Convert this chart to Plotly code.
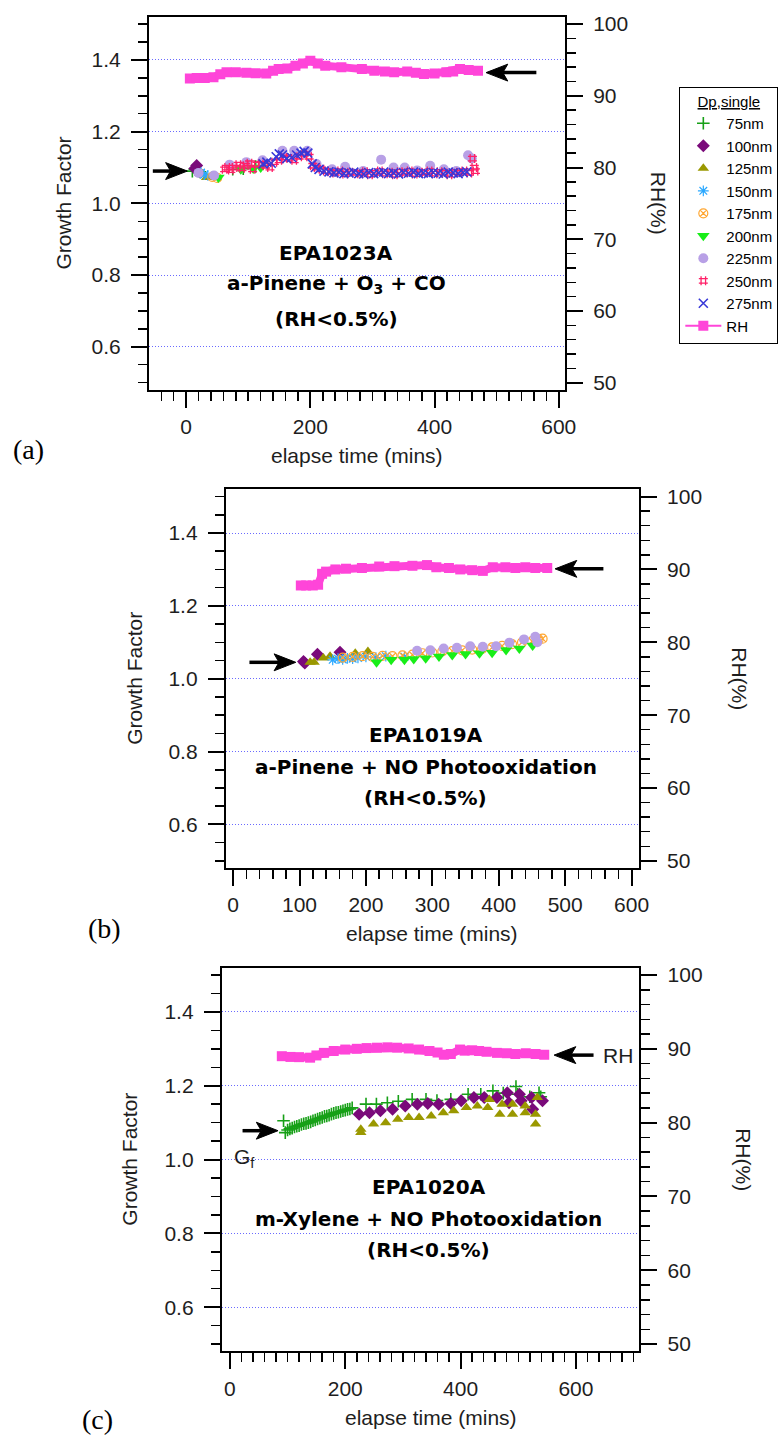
import plotly.graph_objects as go

W, H = 783, 1439

# ======================= DATA =======================
SIZES = ["75nm", "100nm", "125nm", "150nm", "175nm", "200nm", "225nm", "250nm", "275nm"]

# ---- Panel (a): EPA1023A  a-Pinene + O3 + CO ----
a_rh_t = [6, 17, 30, 44, 55, 65, 80, 97, 112, 129, 140, 149, 163, 176, 188, 200, 212, 224, 250, 283,
          303, 320, 335, 356, 370, 383, 400, 419, 430, 441, 455, 470]
a_rh = [92.4, 92.5, 92.5, 92.6, 93.0, 93.3, 93.3, 93.2, 93.15, 93.1, 93.5, 93.75, 93.8, 94.2, 94.5, 94.9,
        94.5, 94.2, 94.0, 93.75, 93.5, 93.4, 93.3, 93.4, 93.2, 93.05, 93.1, 93.3, 93.4, 93.75, 93.6, 93.5]

a_t_75 = [10, 14, 22, 75, 92, 112]
a_gf_75 = [1.09, 1.095, 1.088, 1.095, 1.097, 1.103]
a_t_100 = [14, 17]
a_gf_100 = [1.097, 1.106]
a_t_125 = [26, 33, 40]
a_gf_125 = [1.083, 1.072, 1.073]
a_t_150 = [24, 29, 35]
a_gf_150 = [1.086, 1.08, 1.078]
a_t_175 = [42, 50]
a_gf_175 = [1.074, 1.071]
a_t_200 = [52, 88, 108, 120]
a_gf_200 = [1.072, 1.095, 1.097, 1.10]
a_t_225 = [20, 45, 70, 97, 123, 155, 174, 195, 210, 235, 256, 285, 314, 334, 352, 372, 393, 415, 435, 454, 460]
a_gf_225 = [1.085, 1.078, 1.108, 1.115, 1.12, 1.147, 1.147, 1.147, 1.11, 1.095, 1.102, 1.09, 1.122, 1.10,
            1.10, 1.092, 1.105, 1.095, 1.09, 1.134, 1.125]
a_t_250 = [62, 66, 72, 78, 84, 90, 96, 102, 107, 114, 120, 128, 135, 142, 150, 158, 166, 174, 182, 190,
           198, 204, 210, 218, 225, 232, 240, 248, 256, 264, 272, 280, 288, 296, 304, 312, 320, 328, 336, 344,
           352, 360, 368, 376, 384, 392, 400, 408, 416, 424, 432, 440, 448, 456, 461, 464, 466]
a_gf_250 = [1.095, 1.10, 1.093, 1.10, 1.108, 1.098, 1.105, 1.112, 1.095, 1.108, 1.11, 1.105, 1.10, 1.115,
            1.12, 1.128, 1.125, 1.12, 1.13, 1.138, 1.13, 1.105, 1.10, 1.095, 1.09, 1.088, 1.085, 1.09, 1.082,
            1.087, 1.085, 1.083, 1.088, 1.08, 1.085, 1.09, 1.083, 1.087, 1.08, 1.088, 1.085, 1.09, 1.082,
            1.087, 1.085, 1.09, 1.083, 1.088, 1.085, 1.08, 1.087, 1.085, 1.09, 1.085, 1.125, 1.10, 1.09]
a_t_275 = [124, 130, 137, 145, 150, 155, 162, 170, 178, 185, 190, 196, 203, 208, 214, 222, 230, 238, 246,
           254, 262, 270, 278, 286, 294, 302, 310, 318, 326, 334, 342, 350, 358, 366, 374, 382, 390, 398,
           406, 414, 422, 430, 438, 446, 452]
a_gf_275 = [1.11, 1.115, 1.112, 1.13, 1.138, 1.135, 1.125, 1.128, 1.135, 1.14, 1.145, 1.14, 1.11, 1.10,
            1.095, 1.09, 1.088, 1.085, 1.087, 1.083, 1.085, 1.087, 1.083, 1.082, 1.086, 1.083, 1.085, 1.087,
            1.083, 1.085, 1.082, 1.086, 1.084, 1.087, 1.083, 1.085, 1.083, 1.086, 1.084, 1.082, 1.087, 1.085,
            1.083, 1.086, 1.088]

# ---- Panel (b): EPA1019A  a-Pinene + NO photooxidation ----
b_rh_t = [102, 110, 120, 128, 134, 140, 154, 170, 194, 220, 243, 270, 292, 306, 325, 342, 360, 376, 391,
          410, 425, 440, 455, 473]
b_rh = [87.8, 87.8, 87.8, 87.9, 89.4, 89.7, 90.0, 90.1, 90.2, 90.4, 90.45, 90.5, 90.6, 90.3, 90.2, 90.0,
        89.9, 89.8, 90.3, 90.3, 90.2, 90.3, 90.2, 90.2]
b_t_100 = [106, 108, 127, 161]
b_gf_100 = [1.047, 1.043, 1.067, 1.073]
b_t_125 = [116, 122, 136, 146, 184, 203]
b_gf_125 = [1.045, 1.045, 1.057, 1.062, 1.07, 1.075]
b_t_150 = [150, 158, 165, 172, 180, 188, 200, 215, 230, 258]
b_gf_150 = [1.052, 1.055, 1.053, 1.056, 1.055, 1.057, 1.06, 1.058, 1.062, 1.06]
b_t_175 = [165, 180, 195, 210, 225, 240, 255, 270, 285, 300, 315, 330, 345, 360, 375, 390, 405, 420, 435,
           450, 460, 466]
b_gf_175 = [1.058, 1.06, 1.062, 1.06, 1.063, 1.062, 1.064, 1.066, 1.07, 1.072, 1.075, 1.076, 1.078, 1.08,
            1.082, 1.086, 1.09, 1.095, 1.10, 1.103, 1.108, 1.11]
b_t_200 = [216, 238, 258, 272, 290, 310, 330, 350, 371, 390, 411, 431, 451]
b_gf_200 = [1.045, 1.052, 1.052, 1.054, 1.056, 1.061, 1.065, 1.068, 1.07, 1.071, 1.079, 1.083, 1.091]
b_t_225 = [277, 297, 317, 337, 357, 376, 396, 416, 438, 455, 458]
b_gf_225 = [1.077, 1.078, 1.083, 1.085, 1.089, 1.088, 1.089, 1.099, 1.108, 1.115, 1.10]

# ---- Panel (c): EPA1020A  m-Xylene + NO photooxidation ----
c_rh_t = [90, 105, 120, 139, 150, 163, 180, 200, 220, 237, 255, 273, 290, 310, 328, 346, 360, 371, 383,
          399, 407, 420, 432, 445, 463, 480, 495, 513, 530, 545]
c_rh = [89.0, 88.9, 88.87, 88.8, 89.1, 89.45, 89.7, 89.9, 90.0, 90.1, 90.15, 90.2, 90.15, 90.05, 89.9,
        89.7, 89.5, 89.2, 89.3, 89.9, 89.75, 89.8, 89.7, 89.6, 89.45, 89.4, 89.3, 89.4, 89.3, 89.2]
c_t_75 = [93, 96, 100, 104, 108, 112, 116, 120, 124, 128, 132, 136, 140, 144, 148, 152, 156, 160, 164, 168,
          172, 176, 180, 184, 188, 192, 196, 200, 204, 208, 212, 236, 254, 273, 292, 316, 340, 359, 383, 413,
          435, 456, 474, 496, 499, 520, 536, 539]
c_gf_75 = [1.105, 1.073, 1.080, 1.083, 1.085, 1.088, 1.09, 1.092, 1.095, 1.097, 1.098, 1.10, 1.102, 1.105,
           1.107, 1.11, 1.112, 1.114, 1.117, 1.118, 1.12, 1.123, 1.125, 1.127, 1.128, 1.13, 1.132, 1.134,
           1.136, 1.137, 1.14, 1.15, 1.15, 1.154, 1.158, 1.163, 1.163, 1.16, 1.163, 1.177, 1.177, 1.186,
           1.18, 1.198, 1.177, 1.17, 1.181, 1.17]
c_t_100 = [224, 242, 261, 282, 304, 325, 343, 362, 383, 401, 423, 441, 463, 481, 484, 502, 505, 523, 525, 542]
c_gf_100 = [1.123, 1.127, 1.132, 1.136, 1.145, 1.15, 1.152, 1.15, 1.152, 1.159, 1.168, 1.168, 1.168, 1.181,
            1.154, 1.177, 1.159, 1.168, 1.136, 1.159]
c_t_125 = [227, 227, 249, 270, 291, 310, 328, 349, 370, 388, 410, 429, 447, 450, 468, 472, 490, 490, 512,
           512, 530, 530, 533]
c_gf_125 = [1.082, 1.073, 1.096, 1.10, 1.109, 1.114, 1.114, 1.118, 1.127, 1.132, 1.141, 1.145, 1.141, 1.163,
            1.123, 1.15, 1.123, 1.15, 1.127, 1.145, 1.096, 1.123, 1.168]

GF_TICKS = [0.6, 0.8, 1.0, 1.2, 1.4]
GF_TICKTEXT = ["0.6", "0.8", "1.0", "1.2", "1.4"]
RH_TICKS = [50, 60, 70, 80, 90, 100]

# ======================= STYLES =======================
STYLE = {
    "75nm": dict(symbol="cross-thin-open", size=9, color="#17a017", lw=1.6),
    "100nm": dict(symbol="diamond", size=10, color="#7a0a7a", lw=0),
    "125nm": dict(symbol="triangle-up", size=10, color="#9a9800", lw=0),
    "150nm": dict(symbol="asterisk-open", size=9, color="#2aa8ff", lw=1.2),
    "175nm": dict(symbol="circle-x-open", size=9, color="#ffa630", lw=1.2),
    "200nm": dict(symbol="triangle-down", size=11, color="#18ee18", lw=0),
    "225nm": dict(symbol="circle", size=10, color="#b8a0e6", lw=0),
    "250nm": dict(symbol="hash-open", size=9, color="#ff2068", lw=1.3),
    "275nm": dict(symbol="x-thin-open", size=9, color="#3838d8", lw=1.6),
}
RH_COLOR = "#ff45d9"
REG = "Liberation Sans, Arial, sans-serif"
BOLD = "DejaVu Sans, Verdana, sans-serif"
SERIF = "Liberation Serif, Times New Roman, serif"
TXT = "#1e1e1e"

fig = go.Figure()


def add_gf(t, gf, size, xa, ya, legend):
    s = STYLE[size]
    marker = dict(symbol=s["symbol"], size=s["size"], color=s["color"])
    if s["symbol"].endswith("-open"):
        marker["line"] = dict(color=s["color"], width=s["lw"])
    else:
        marker["line"] = dict(width=0)
    fig.add_trace(go.Scatter(x=t, y=gf, mode="markers", name=size, marker=marker,
                             xaxis=xa, yaxis=ya, showlegend=legend, legendrank=SIZES.index(size) + 1))


def add_rh(t, rh, xa, ya):
    fig.add_trace(go.Scatter(x=t, y=rh, mode="lines+markers", name="RH",
                             line=dict(color=RH_COLOR, width=8),
                             marker=dict(symbol="square", size=10, color=RH_COLOR),
                             xaxis=xa, yaxis=ya, showlegend=False))


a_series = [("75nm", a_t_75, a_gf_75), ("100nm", a_t_100, a_gf_100), ("125nm", a_t_125, a_gf_125),
            ("150nm", a_t_150, a_gf_150), ("175nm", a_t_175, a_gf_175), ("200nm", a_t_200, a_gf_200),
            ("225nm", a_t_225, a_gf_225), ("250nm", a_t_250, a_gf_250), ("275nm", a_t_275, a_gf_275)]
for size, t, gf in a_series:
    add_gf(t, gf, size, "x", "y", True)
add_rh(a_rh_t, a_rh, "x", "y2")
# legend-only entry for the RH series (thin line + square, as in the original key)
fig.add_trace(go.Scatter(x=[None], y=[None], mode="lines+markers", name="RH",
                         line=dict(color=RH_COLOR, width=2),
                         marker=dict(symbol="square", size=10, color=RH_COLOR),
                         xaxis="x", yaxis="y2", showlegend=True, legendrank=20))

b_series = [("100nm", b_t_100, b_gf_100), ("125nm", b_t_125, b_gf_125), ("150nm", b_t_150, b_gf_150),
            ("175nm", b_t_175, b_gf_175), ("200nm", b_t_200, b_gf_200), ("225nm", b_t_225, b_gf_225)]
for size, t, gf in b_series:
    add_gf(t, gf, size, "x2", "y3", False)
add_rh(b_rh_t, b_rh, "x2", "y4")

c_series = [("75nm", c_t_75, c_gf_75), ("100nm", c_t_100, c_gf_100), ("125nm", c_t_125, c_gf_125)]
for size, t, gf in c_series:
    add_gf(t, gf, size, "x3", "y5", False)
add_rh(c_rh_t, c_rh, "x3", "y6")


# ======================= LAYOUT =======================
def fx(p):
    return p / W


def fy(p):
    return 1 - p / H


PANELS = [
    dict(l=151, r=573, t=13, b=388, xr=[-60, 610], dt=200, mt=(-40, 600), gx=64, rx=668),
    dict(l=229, r=648, t=488, b=869, xr=[-11, 611], dt=100, mt=(0, 600), gx=137, rx=750),
    dict(l=225, r=648.5, t=969, b=1355, xr=[-14, 710], dt=200, mt=(0, 700), gx=131, rx=754),
]
GF_RANGE = [0.48, 1.52]
RH_RANGE = [49, 101]

tickfont = dict(family=REG, size=21, color=TXT)
layout = dict(width=W, height=H, margin=dict(l=0, r=0, t=0, b=0),
              paper_bgcolor="white", plot_bgcolor="white", showlegend=True)

for i, p in enumerate(PANELS):
    xn = "xaxis" if i == 0 else f"xaxis{i + 1}"
    yl = "yaxis" if i == 0 else f"yaxis{2 * i + 1}"
    yr = f"yaxis{2 * i + 2}"
    xid = "x" if i == 0 else f"x{i + 1}"
    ylid = "y" if i == 0 else f"y{2 * i + 1}"
    xdom = [fx(p["l"]), fx(p["r"])]
    ydom = [fy(p["b"]), fy(p["t"])]
    layout[xn] = dict(domain=xdom, range=p["xr"], anchor=ylid, showline=True, linecolor="black",
                      linewidth=2, mirror=True, ticks="outside", ticklen=16, tickwidth=2,
                      tickcolor="black", tickmode="linear", tick0=0, dtick=p["dt"],
                      minor=dict(tickmode="array",
                                 tickvals=list(range(p["mt"][0], p["mt"][1] + 1, 20)),
                                 ticks="outside", ticklen=9, tickwidth=1.5, tickcolor="black",
                                 showgrid=False),
                      showgrid=False, zeroline=False, tickfont=tickfont, ticklabelstandoff=1,
                      fixedrange=True)
    layout[yl] = dict(domain=ydom, range=GF_RANGE, anchor=xid, showline=True, linecolor="black",
                      linewidth=2, ticks="outside", ticklen=16, tickwidth=2, tickcolor="black",
                      tickmode="array", tickvals=GF_TICKS, ticktext=GF_TICKTEXT,
                      minor=dict(tickmode="array",
                                 tickvals=[round(0.5 + 0.05 * k, 2) for k in range(21)],
                                 ticks="outside", ticklen=9, tickwidth=1.5, tickcolor="black",
                                 showgrid=False),
                      showgrid=True, gridcolor="#6a6aff", gridwidth=1, griddash="1px,2px",
                      zeroline=False, tickfont=tickfont, ticklabelstandoff=6, fixedrange=True)
    layout[yr] = dict(overlaying=ylid, side="right", range=RH_RANGE, anchor=xid, showline=True,
                      linecolor="black", linewidth=2, ticks="outside", ticklen=16, tickwidth=2,
                      tickcolor="black", tickmode="array", tickvals=RH_TICKS,
                      minor=dict(tickmode="array", tickvals=list(range(50, 101, 2)),
                                 ticks="outside", ticklen=9, tickwidth=1.5, tickcolor="black",
                                 showgrid=False),
                      showgrid=False, zeroline=False, tickfont=tickfont, ticklabelstandoff=6,
                      fixedrange=True)

ann = []
shapes = []


def text(x, y, s, size=21, family=REG, angle=0, color=TXT, xanchor="center"):
    ann.append(dict(x=fx(x), y=fy(y), xref="paper", yref="paper", text=s, showarrow=False,
                    font=dict(family=family, size=size, color=color), textangle=angle,
                    xanchor=xanchor, yanchor="middle"))


def arrow(x_tip, y, x_tail):
    s = 1 if x_tail > x_tip else -1
    head_len, half_h, notch = 22, 8.5, 17
    shapes.append(dict(type="line", xref="paper", yref="paper",
                       x0=fx(x_tip + s * notch), x1=fx(x_tail), y0=fy(y), y1=fy(y),
                       line=dict(color="black", width=3.5)))
    path = (f"M {fx(x_tip)} {fy(y)} L {fx(x_tip + s * head_len)} {fy(y - half_h)} "
            f"L {fx(x_tip + s * notch)} {fy(y)} L {fx(x_tip + s * head_len)} {fy(y + half_h)} Z")
    shapes.append(dict(type="path", xref="paper", yref="paper", path=path,
                       fillcolor="black", line=dict(color="black", width=1)))


for p in PANELS:
    cx = (p["l"] + p["r"]) / 2
    cy = (p["t"] + p["b"]) / 2
    text(cx, p["b"] + 66, "elapse time (mins)")
    text(p["gx"], cy, "Growth Factor", angle=-90)
    text(p["rx"], cy, "RH(%)", angle=90)

text(341, 250, "<b>EPA1023A</b>", 20, BOLD, color="black")
text(341, 282, "<b>a-Pinene + O<sub>3</sub> + CO</b>", 20, BOLD, color="black")
text(341, 317, "<b>(RH&lt;0.5%)</b>", 20, BOLD, color="black")
text(432, 735, "<b>EPA1019A</b>", 20, BOLD, color="black")
text(432, 767, "<b>a-Pinene + NO Photooxidation</b>", 20, BOLD, color="black")
text(432, 798, "<b>(RH&lt;0.5%)</b>", 20, BOLD, color="black")
text(435, 1190, "<b>EPA1020A</b>", 20, BOLD, color="black")
text(435, 1222, "<b>m-Xylene + NO Photooxidation</b>", 20, BOLD, color="black")
text(435, 1253, "<b>(RH&lt;0.5%)</b>", 20, BOLD, color="black")

arrow(190, 168, 155)
arrow(493, 69, 544)
arrow(300, 662, 253)
arrow(563, 568, 612)
arrow(282, 1133, 246)
arrow(562, 1057, 602)
text(627, 1057, "RH", 21)
text(248, 1160, "G<sub>f</sub>", 21)

text(29, 448, "(a)", 28, SERIF, color="black")
text(106, 930, "(b)", 28, SERIF, color="black")
text(99, 1423, "(c)", 28, SERIF, color="black")

layout["annotations"] = ann
layout["shapes"] = shapes
layout["legend"] = dict(x=fx(689), y=fy(83), xanchor="left", yanchor="top", bgcolor="white",
                        bordercolor="black", borderwidth=1, tracegroupgap=0, itemwidth=36,
                        font=dict(family=REG, size=15, color="black"),
                        title=dict(text="<u>Dp,single</u>", side="top center",
                                   font=dict(family=REG, size=15, color="black")))

fig.update_layout(**layout)
fig.write_html("out.html", config={"displayModeBar": False, "staticPlot": True})
